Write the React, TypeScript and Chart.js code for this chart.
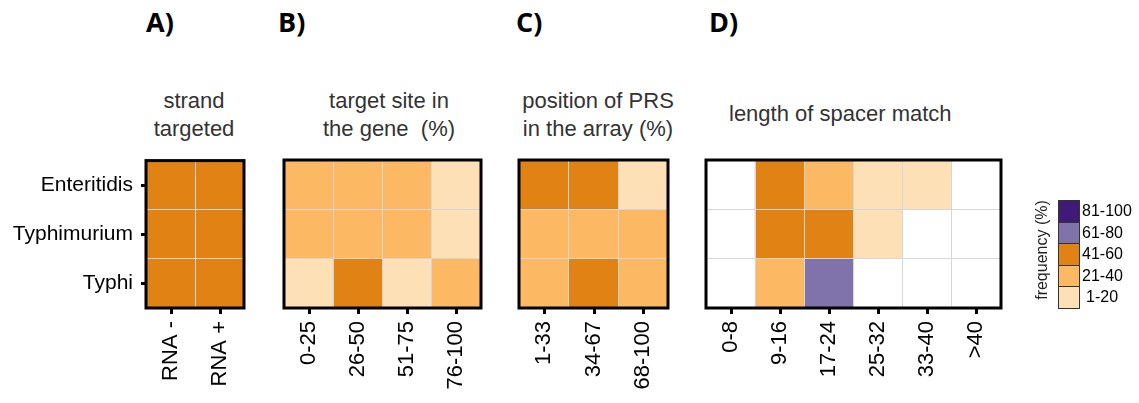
import { useEffect, useRef } from "react";
import { Chart, registerables } from "chart.js";

Chart.register(...registerables);

// Row order as listed top to bottom in every panel
const species = ["Enteritidis", "Typhimurium", "Typhi"];

// A) strand targeted (% of protospacers per species)
const strandLabels = ["RNA -", "RNA +"];
const strandEnteritidis = [50, 50];
const strandTyphimurium = [50, 50];
const strandTyphi = [50, 50];

// B) target site in the gene (%)
const geneSiteLabels = ["0-25", "26-50", "51-75", "76-100"];
const geneSiteEnteritidis = [30, 30, 28, 12];
const geneSiteTyphimurium = [30, 30, 28, 12];
const geneSiteTyphi = [15, 45, 15, 25];

// C) position of PRS in the array (%)
const prsLabels = ["1-33", "34-67", "68-100"];
const prsEnteritidis = [45, 45, 10];
const prsTyphimurium = [33, 34, 33];
const prsTyphi = [25, 50, 25];

// D) length of spacer match
const spacerLabels = ["0-8", "9-16", "17-24", "25-32", "33-40", ">40"];
const spacerEnteritidis = [0, 45, 30, 15, 10, 0];
const spacerTyphimurium = [0, 45, 45, 10, 0, 0];
const spacerTyphi = [0, 30, 70, 0, 0, 0];

// Frequency colour scale (highest first)
const binLabels = ["81-100", "61-80", "41-60", "21-40", "1-20"];
const binColors = ["#3f1a76", "#8073ac", "#e08214", "#fdb863", "#fee0b6"];
const binUpper = [100, 80, 60, 40, 20];

const FONT = "'Liberation Sans', Arial, Helvetica, sans-serif";
const BOLD_FONT = "'Open Sans', 'Liberation Sans', Arial, sans-serif";
const GRID = "#d6d6d6";
const PAGE_H = 403;
const PLOT_TOP = 160;
const PLOT_BOTTOM = 308;
const EDGE = 20;
const X_TICK_LEN = 6;

Chart.defaults.font.family = FONT;

function colorFor(v: number): string {
  if (v <= 0) return "#ffffff";
  let idx = 0;
  for (let i = 0; i < binUpper.length; i++) {
    if (v <= binUpper[i]) idx = i;
  }
  return binColors[idx];
}

// Black box round the plot area plus the category tick marks under it
const framePlugin = {
  id: "frame",
  afterDraw(chart: any) {
    const { ctx, chartArea: a } = chart;
    const xs = chart.scales.x;
    ctx.save();
    ctx.strokeStyle = "#000";
    ctx.lineWidth = 3;
    ctx.beginPath();
    xs.ticks.forEach((_t: any, i: number) => {
      const px = Math.round(xs.getPixelForTick(i)) + 0.5;
      ctx.moveTo(px, a.bottom);
      ctx.lineTo(px, a.bottom + X_TICK_LEN);
    });
    ctx.stroke();
    ctx.strokeRect(a.left, a.top, a.right - a.left, a.bottom - a.top);
    ctx.restore();
  },
};

type PanelProps = {
  labels: string[];
  rows: number[][];
  left: number;
  right: number;
  rowNames?: string[];
};

function HeatmapPanel({ labels, rows, left, right, rowNames }: PanelProps) {
  const ref = useRef<HTMLCanvasElement>(null);
  const withNames = !!rowNames;
  const padLeft = withNames ? 0 : EDGE;
  const canvasLeft = withNames ? 0 : left - EDGE;
  const canvasTop = PLOT_TOP - EDGE;
  const width = left - canvasLeft + (right - left) + EDGE;
  const height = PAGE_H - canvasTop;

  useEffect(() => {
    if (!ref.current) return;
    const bottomUp = rows.slice().reverse();
    const namesBottomUp = rowNames ? rowNames.slice().reverse() : [];
    const chart = new Chart(ref.current, {
      type: "bar",
      data: {
        labels,
        datasets: bottomUp.map((vals, i) => ({
          label: namesBottomUp[i] ?? String(i),
          data: vals.map(() => [i, i + 1]) as any,
          backgroundColor: vals.map(colorFor),
          borderWidth: 0,
          barPercentage: 1,
          categoryPercentage: 1,
          grouped: false,
          xAxisID: "x",
          yAxisID: "y",
        })),
      },
      options: {
        responsive: false,
        animation: false,
        devicePixelRatio: 1,
        layout: { padding: { top: EDGE, right: EDGE, bottom: 0, left: padLeft } },
        plugins: { legend: { display: false }, tooltip: { enabled: false } },
        scales: {
          x: {
            type: "category",
            position: "bottom",
            offset: true,
            grid: {
              offset: false,
              drawOnChartArea: false,
              drawTicks: true,
              tickLength: X_TICK_LEN,
              tickColor: "rgba(0,0,0,0)",
            },
            border: { display: false },
            ticks: {
              autoSkip: false,
              minRotation: 90,
              maxRotation: 90,
              padding: 7,
              color: "#000",
              font: { size: 22, family: FONT },
            },
            afterFit: (s: any) => {
              s.height = PAGE_H - PLOT_BOTTOM;
            },
          },
          xg: {
            type: "category",
            position: "bottom",
            labels,
            offset: true,
            grid: { offset: true, color: GRID, lineWidth: 1, drawTicks: false, z: 1 },
            border: { display: false },
            ticks: { display: false },
            afterFit: (s: any) => {
              s.height = 0;
            },
          },
          y: withNames
            ? {
                type: "linear",
                position: "left",
                min: 0,
                max: 3,
                afterBuildTicks: (s: any) => {
                  s.ticks = [0.5, 1.5, 2.5].map((value) => ({ value }));
                },
                grid: {
                  drawOnChartArea: false,
                  drawTicks: true,
                  tickLength: 5,
                  tickWidth: 3,
                  tickColor: "#000",
                },
                border: { display: false },
                ticks: {
                  padding: 8,
                  color: "#000",
                  font: { size: 21, family: FONT },
                  callback: (v: any) => namesBottomUp[Math.floor(Number(v))] ?? "",
                },
                afterFit: (s: any) => {
                  s.width = left;
                },
              }
            : { type: "linear", display: false, min: 0, max: 3 },
          yg: {
            type: "linear",
            position: "left",
            min: 0,
            max: 3,
            grid: { color: GRID, lineWidth: 1, drawTicks: false, z: 1 },
            border: { display: false },
            ticks: { display: false, stepSize: 1 },
            afterFit: (s: any) => {
              s.width = 0;
            },
          },
        },
      } as any,
      plugins: [framePlugin],
    });
    return () => chart.destroy();
  }, []);

  return (
    <canvas
      ref={ref}
      width={width}
      height={height}
      style={{ position: "absolute", left: canvasLeft, top: canvasTop, width, height }}
    />
  );
}

const letterStyle = (left: number): any => ({
  position: "absolute",
  left,
  top: 6,
  font: `700 27px/32px ${BOLD_FONT}`,
  color: "#000",
});

const titleStyle = (center: number, top: number): any => ({
  position: "absolute",
  left: center - 150,
  width: 300,
  top,
  textAlign: "center",
  font: `22px/28px ${FONT}`,
  color: "#333",
  whiteSpace: "pre",
});

export default function App() {
  const legendTop = 200;
  const boxH = 21.6;
  return (
    <div
      style={{
        position: "absolute",
        left: 0,
        top: 0,
        width: 1139,
        height: 403,
        overflow: "hidden",
        background: "#fff",
      }}
    >
      <div style={letterStyle(146)}>A)</div>
      <div style={letterStyle(278)}>B)</div>
      <div style={letterStyle(516)}>C)</div>
      <div style={letterStyle(709)}>D)</div>

      <div style={titleStyle(194, 87)}>{"strand\ntargeted"}</div>
      <div style={titleStyle(389, 87)}>{"target site in\nthe gene  (%)"}</div>
      <div style={titleStyle(598, 87)}>{"position of PRS\nin the array (%)"}</div>
      <div style={{ ...titleStyle(0, 100), left: 729, width: 300, textAlign: "left" }}>
        length of spacer match
      </div>

      <HeatmapPanel
        labels={strandLabels}
        rows={[strandEnteritidis, strandTyphimurium, strandTyphi]}
        left={146}
        right={244}
        rowNames={species}
      />
      <HeatmapPanel
        labels={geneSiteLabels}
        rows={[geneSiteEnteritidis, geneSiteTyphimurium, geneSiteTyphi]}
        left={284}
        right={481}
      />
      <HeatmapPanel
        labels={prsLabels}
        rows={[prsEnteritidis, prsTyphimurium, prsTyphi]}
        left={519}
        right={668}
      />
      <HeatmapPanel
        labels={spacerLabels}
        rows={[spacerEnteritidis, spacerTyphimurium, spacerTyphi]}
        left={706}
        right={1001}
      />

      <div
        style={{
          position: "absolute",
          left: 1042 - 60,
          top: 250 - 10,
          width: 120,
          height: 20,
          textAlign: "center",
          font: `16px/20px ${FONT}`,
          color: "#222",
          transform: "rotate(-90deg)",
          whiteSpace: "nowrap",
        }}
      >
        frequency (%)
      </div>
      {binLabels.map((lab, i) => (
        <div key={lab}>
          <div
            style={{
              position: "absolute",
              left: 1058,
              top: legendTop + i * boxH,
              width: 22,
              height: boxH + 1,
              boxSizing: "border-box",
              border: "1px solid #333",
              background: binColors[i],
            }}
          />
          <div
            style={{
              position: "absolute",
              left: i === binLabels.length - 1 ? 1086 : 1082,
              top: legendTop + i * boxH,
              height: boxH,
              font: `16px/${boxH}px ${FONT}`,
              color: "#000",
              whiteSpace: "nowrap",
            }}
          >
            {lab}
          </div>
        </div>
      ))}
    </div>
  );
}
